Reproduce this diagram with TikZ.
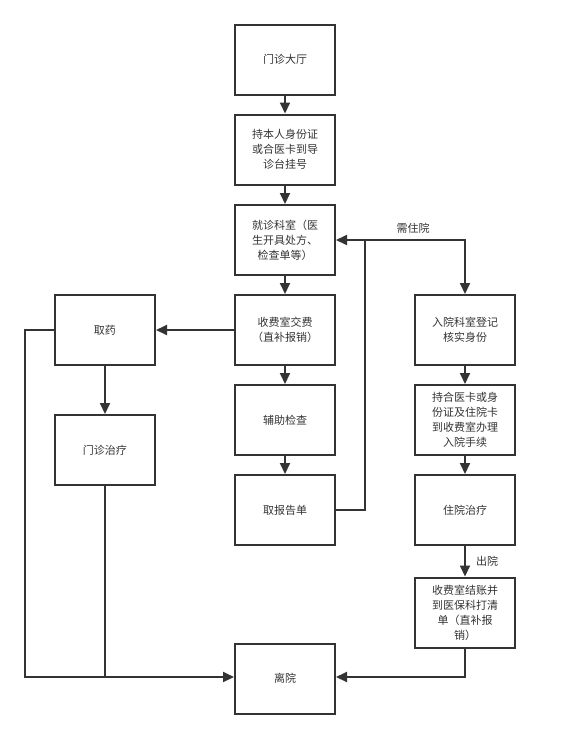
\documentclass[tikz,border=0pt]{standalone}
\usepackage{fontspec}
\setmainfont{Noto Sans CJK SC}
\usetikzlibrary{arrows.meta}
\definecolor{ink}{HTML}{333333}
\tikzset{
  box/.style={draw=ink, line width=2pt, minimum width=100pt, minimum height=70pt,
    inner sep=0pt, align=center, text=ink, font=\fontsize{11pt}{15pt}\selectfont, text width=92pt},
  conn/.style={draw=ink, line width=2pt, -{Triangle[length=11pt,width=10pt]}},
  plain/.style={draw=ink, line width=2pt},
  lbl/.style={text=ink, font=\fontsize{11pt}{15pt}\selectfont, inner sep=0pt}
}
\begin{document}
\begin{tikzpicture}[x=1pt,y=-1pt]
\useasboundingbox (0,0) rectangle (572,737);
\node[box] (hall) at (285,59.5) {门诊大厅};
\node[box] (reg) at (285,149.5) {持本人身份证\\或合医卡到导\\诊台挂号};
\node[box] (dept) at (285,240) {就诊科室（医\\生开具处方、\\检查单等）};
\node[box] (pay) at (285,330) {收费室交费\\（直补报销）};
\node[box] (aux) at (285,420) {辅助检查};
\node[box] (rep) at (285,510) {取报告单};
\node[box] (leave) at (285,678.5) {离院};
\node[box] (drug) at (105,330) {取药};
\node[box] (opd) at (105,450) {门诊治疗};
\node[box] (adm) at (465,330) {入院科室登记\\核实身份};
\node[box] (card) at (465,420) {持合医卡或身\\份证及住院卡\\到收费室办理\\入院手续};
\node[box] (inp) at (465,510) {住院治疗};
\node[box] (bill) at (465,612.5) {收费室结账并\\到医保科打清\\单（直补报\\销）};
\coordinate (jr) at (365,240);
\coordinate (jb) at (365,510);
\coordinate (ja) at (465,240);
\coordinate (lb) at (25,330);
\coordinate (lbb) at (25,677);
\coordinate (mb) at (105,677);
\coordinate (rb) at (465,677);
\draw[conn] (hall) -- (reg);
\draw[conn] (reg) -- (dept);
\draw[conn] (dept) -- (pay);
\draw[conn] (pay) -- (aux);
\draw[conn] (aux) -- (rep);
\draw[conn] (pay) -- (drug);
\draw[conn] (drug) -- (opd);
\draw[plain] (rep.east) -- (jb) -- (jr);
\draw[conn] (jr) -- (dept.east);
\draw[conn] (jr) -- (ja) -- (adm.north);
\node[lbl] (need) at (413,228) {需住院};
\draw[conn] (adm) -- (card);
\draw[conn] (card) -- (inp);
\draw[conn] (inp) -- (bill);
\node[lbl] (out) at (487,561) {出院};
\draw[conn] (bill.south) -- (rb) -- (leave.east |- rb);
\draw[conn] (drug.west) -- (lb) -- (lbb) -- (leave.west |- lbb);
\draw[plain] (opd.south) -- (mb);
\end{tikzpicture}
\end{document}
